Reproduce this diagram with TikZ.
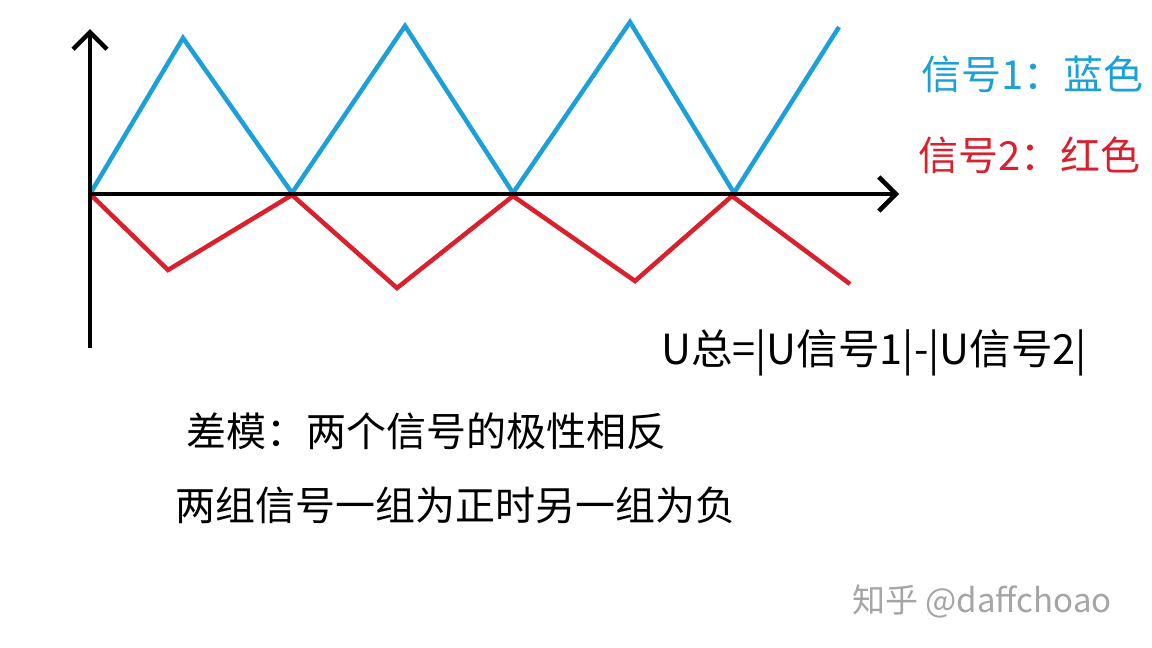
\documentclass[tikz,border=0pt]{standalone}
\usepackage{fontspec}
\setmainfont{Noto Sans CJK SC}
\usepackage{tikz}
\usetikzlibrary{arrows.meta}
\definecolor{sigblue}{RGB}{28,160,218}
\definecolor{sigred}{RGB}{218,32,44}
\definecolor{markgray}{RGB}{165,165,165}

\begin{document}
\begin{tikzpicture}[x=1pt, y=-1pt,
    axis/.style={line width=4.5pt, -{Straight Barb[length=17pt, width=34pt, line width=4.5pt]}},
    wave/.style={line width=4.5pt, line join=miter},
    label/.style={inner sep=0pt, anchor=west, font=\fontsize{40}{48}\selectfont}]
    \useasboundingbox (0,0) rectangle (1152,648);
    \coordinate (O) at (90,194);
    \coordinate (Ytop) at (90,29);
    \coordinate (Ybot) at (90,348);
    \coordinate (Xend) at (899,194);
    \draw [wave, sigblue] (O) -- (183,38) -- (292,193) -- (405,26) -- (513,193) -- (630,22) -- (734,193) -- (839,27);
    \draw [wave, sigred] (O) -- (168,270) -- (292,195) -- (397,288) -- (513,196) -- (635,281) -- (732,196) -- (850,284);
    \draw [axis] (Ybot) -- (Ytop);
    \draw [axis] (O) -- (Xend);
    \node[label, text=sigblue] at (921,74) (L1) {信号1：蓝色};
    \node[label, text=sigred] at (918,155) (L2) {信号2：红色};
    \node[label, font=\fontsize{41.5}{48}\selectfont] at (661,353) (F) {U总=|U信号1|-|U信号2|};
    \node[label] at (186,431) (T1) {差模：两个信号的极性相反};
    \node[label] at (175,505) (T2) {两组信号一组为正时另一组为负};
    \node[label, text=markgray, font=\fontsize{33}{40}\selectfont] at (852,601) (W) {知乎 @daffchoao};
\end{tikzpicture}
\end{document}
